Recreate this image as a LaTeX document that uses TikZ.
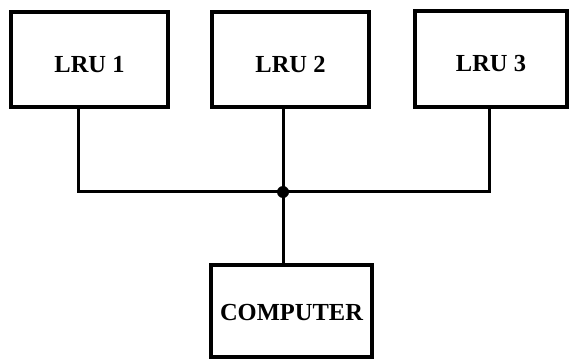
\documentclass[tikz,border=0pt]{standalone}
\usepackage{fontspec}
\setmainfont{Liberation Serif}
\begin{document}
\begin{tikzpicture}[x=1pt,y=-1pt,
  unit/.style={draw=black, line width=3.5pt, fill=white, inner sep=0pt,
    font=\fontsize{24.5}{26}\selectfont\bfseries, text=black,
    text height=26pt, text depth=0pt},
  wire/.style={line width=3pt, line cap=butt}]
\useasboundingbox (0,0) rectangle (569,363);
\fill[white] (0,0) rectangle (569,363);
\node[unit, minimum width=157pt, minimum height=95pt] (lru1) at (89.5,59.5) {LRU 1};
\node[unit, minimum width=157pt, minimum height=95pt] (lru2) at (290.5,59.5) {LRU 2};
\node[unit, minimum width=152pt, minimum height=96pt] (lru3) at (491,59) {LRU 3};
\node[unit, minimum width=161pt, minimum height=92pt, text height=19pt] (comp) at (291.5,311) {COMPUTER};
\coordinate (j) at (283,192);
\draw[wire] ([xshift=-11.5pt]lru1.south) |- (j) -| ([xshift=-2pt]lru3.south);
\draw[wire] ([xshift=-7.5pt]lru2.south) -- (j);
\draw[wire] (j) -- (j |- comp.north);
\fill[black] (j) circle (6pt);
\end{tikzpicture}
\end{document}
